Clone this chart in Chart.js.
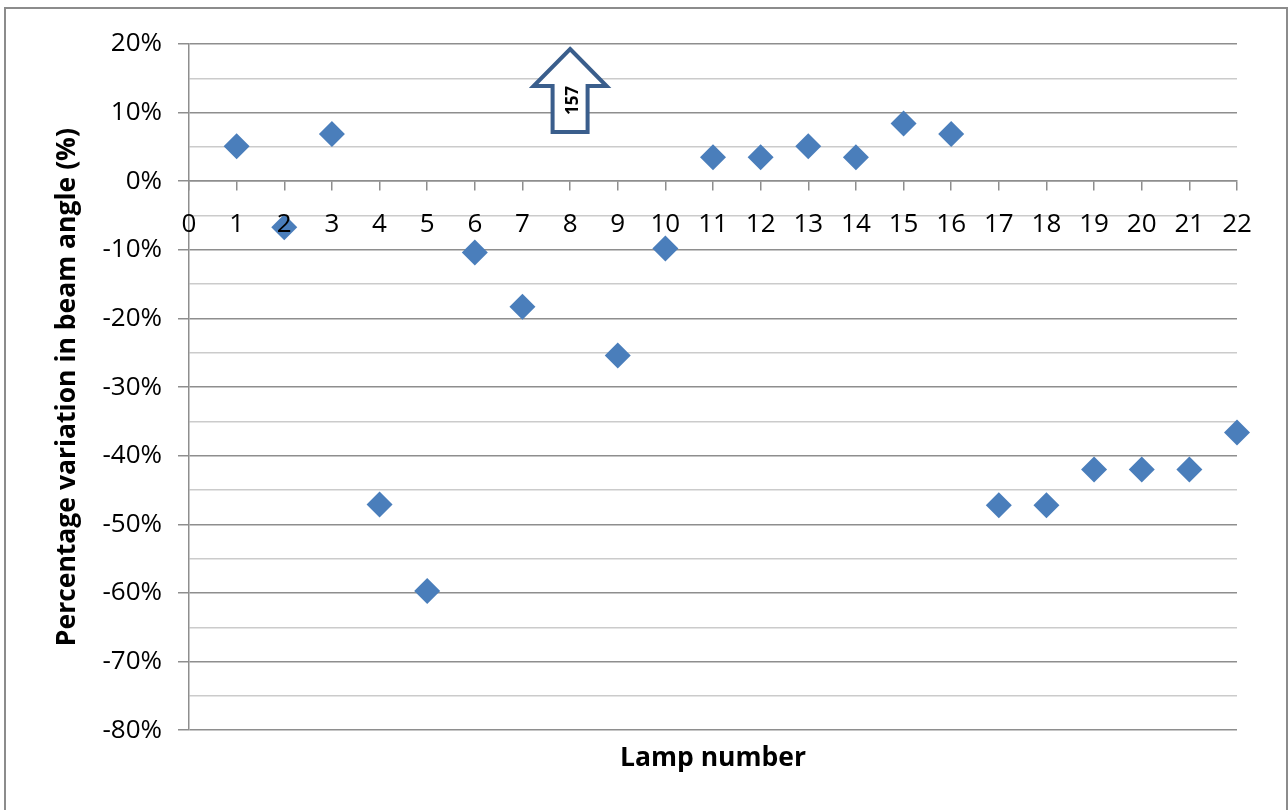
<!DOCTYPE html>
<html>
<head>
<meta charset="utf-8">
<script src="https://cdn.jsdelivr.net/npm/chart.js@4/dist/chart.umd.min.js"></script>
<style>
  html, body { margin: 0; padding: 0; background: #fff; overflow: hidden; }
  #wrap { position: relative; width: 1288px; height: 810px; }
  #frame { position: absolute; left: 4px; top: 7px; width: 1284px; height: 830px;
           border: 2px solid #8c8c8c; box-sizing: border-box; pointer-events: none; }
  canvas { position: absolute; left: 0; top: 0; }
</style>
</head>
<body>
<div id="wrap">
  <canvas id="chart" width="1288" height="810"></canvas>
  <div id="frame"></div>
</div>
<script>
// Lamp numbers and the measured change in beam angle (percent); lamp 8 is off scale.
const lampNumbers   = [1, 2, 3, 4, 5, 6, 7, 8, 9, 10, 11, 12, 13, 14, 15, 16, 17, 18, 19, 20, 21, 22];
const beamVariation = [5.1, -6.7, 6.9, -47.1, -59.7, -10.4, -18.3, null, -25.4, -9.8, 3.5, 3.5,
                       5.1, 3.5, 8.4, 6.9, -47.2, -47.2, -42.0, -42.0, -42.0, -36.6];

// Lamp whose value lies above the axis range, with the value written on the arrow.
const offScaleLamp  = 8;
const offScaleLabel = '157';

// Axis tick values
const xTickValues = [0, 1, 2, 3, 4, 5, 6, 7, 8, 9, 10, 11, 12, 13, 14, 15, 16, 17, 18, 19, 20, 21, 22];
const yTickValues = [-80, -75, -70, -65, -60, -55, -50, -45, -40, -35, -30, -25, -20, -15, -10, -5, 0, 5, 10, 15, 20];
const yLabelValues = [-80, -70, -60, -50, -40, -30, -20, -10, 0, 10, 20];

const points = lampNumbers
  .map((lamp, i) => ({ x: lamp, y: beamVariation[i] }))
  .filter(p => p.y !== null);

const FONT = '"Open Sans", "Liberation Sans", sans-serif';
const MAJOR = '#8e8e8e';
const MINOR = '#cbcbcb';

const offScaleArrow = {
  id: 'offScaleArrow',
  afterDatasetsDraw(chart) {
    const { ctx, scales: { x, y } } = chart;
    const cx = x.getPixelForValue(offScaleLamp);
    const top = y.getPixelForValue(y.max) + 5;
    const headH = 37, headHalf = 36.5, shaftHalf = 17.5, shaftH = 46;
    ctx.save();
    ctx.beginPath();
    ctx.moveTo(cx, top);
    ctx.lineTo(cx + headHalf, top + headH);
    ctx.lineTo(cx + shaftHalf, top + headH);
    ctx.lineTo(cx + shaftHalf, top + headH + shaftH);
    ctx.lineTo(cx - shaftHalf, top + headH + shaftH);
    ctx.lineTo(cx - shaftHalf, top + headH);
    ctx.lineTo(cx - headHalf, top + headH);
    ctx.closePath();
    ctx.fillStyle = '#ffffff';
    ctx.fill();
    ctx.lineWidth = 4;
    ctx.lineJoin = 'miter';
    ctx.strokeStyle = '#3a5e8c';
    ctx.stroke();
    ctx.translate(cx + 3, top + 51.5);
    ctx.rotate(-Math.PI / 2);
    ctx.fillStyle = '#000';
    ctx.font = 'bold 17px ' + FONT;
    ctx.textAlign = 'center';
    ctx.textBaseline = 'middle';
    ctx.fillText(offScaleLabel, 0, 0);
    ctx.restore();
  }
};

new Chart(document.getElementById('chart'), {
  type: 'scatter',
  data: {
    datasets: [{
      data: points,
      pointStyle: 'rectRot',
      pointRadius: 13,
      pointHoverRadius: 13,
      backgroundColor: '#4a7ebb',
      borderColor: '#4a7ebb',
      borderWidth: 0,
      clip: false
    }]
  },
  options: {
    responsive: false,
    animation: false,
    events: [],
    layout: { padding: { left: 0, right: 51, top: 44, bottom: 36 } },
    plugins: { legend: { display: false }, tooltip: { enabled: false } },
    scales: {
      x: {
        type: 'linear',
        position: { y: 0 },
        min: 0, max: 22,
        afterBuildTicks: s => { s.ticks = xTickValues.map(v => ({ value: v })); },
        ticks: {
          z: 1,
          autoSkip: false, maxRotation: 0, padding: 19, color: '#000',
          font: { family: FONT, size: 26 },
          callback: v => String(v)
        },
        grid: { drawOnChartArea: false, tickLength: 9, tickColor: MAJOR, lineWidth: 1.5 },
        border: { color: MAJOR, width: 1.5 }
      },
      xTitle: {
        type: 'linear',
        position: 'bottom',
        axis: 'x',
        min: 0, max: 22,
        ticks: { display: false },
        grid: { display: false, drawTicks: false },
        border: { display: false },
        title: {
          display: true, text: 'Lamp number', color: '#000',
          font: { family: FONT, size: 26.5, weight: 'bold' },
          padding: { top: 12, bottom: 0 }
        }
      },
      y: {
        min: -80, max: 20,
        afterBuildTicks: s => { s.ticks = yTickValues.map(v => ({ value: v })); },
        afterFit: s => { s.width = 189; },
        ticks: {
          padding: 16, color: '#000',
          font: { family: FONT, size: 26 },
          callback: v => (yLabelValues.includes(v) ? v + '%' : '')
        },
        grid: {
          color: c => (c.tick && yLabelValues.includes(c.tick.value) ? MAJOR : MINOR),
          tickColor: c => (c.tick && yLabelValues.includes(c.tick.value) ? MAJOR : 'rgba(0,0,0,0)'),
          tickLength: 11,
          lineWidth: 1.5
        },
        border: { color: MAJOR, width: 1.5 },
        title: {
          display: true, text: 'Percentage variation in beam angle (%)', color: '#000',
          font: { family: FONT, size: 26.5, weight: 'bold' },
          padding: { top: 52, bottom: 0 }
        }
      }
    }
  },
  plugins: [offScaleArrow]
});
</script>
</body>
</html>
